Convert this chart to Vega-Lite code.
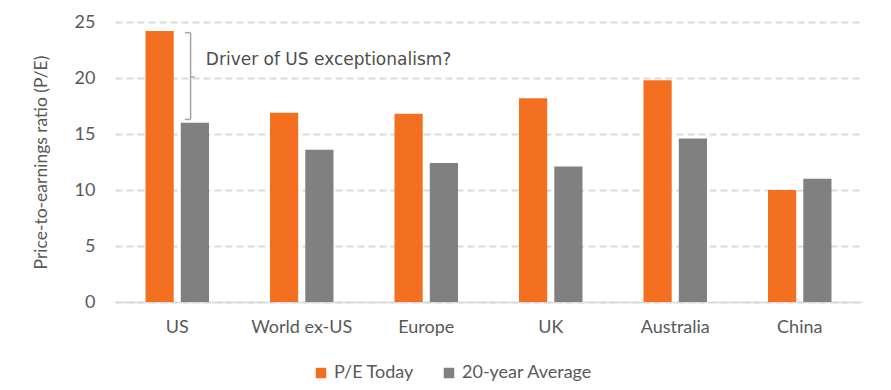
{
  "$schema": "https://vega.github.io/schema/vega-lite/v6.json",
  "width": 747,
  "height": 280,
  "autosize": {"type": "none"},
  "padding": {"left": 115, "top": 22, "right": 29, "bottom": 88},
  "background": "white",
  "config": {
    "view": {"stroke": null},
    "font": "Lato"
  },
  "datasets": {
    "pe": [
      {"region": "US", "series": "P/E Today", "value": 24.2},
      {"region": "US", "series": "20-year Average", "value": 16.0},
      {"region": "World ex-US", "series": "P/E Today", "value": 16.9},
      {"region": "World ex-US", "series": "20-year Average", "value": 13.6},
      {"region": "Europe", "series": "P/E Today", "value": 16.8},
      {"region": "Europe", "series": "20-year Average", "value": 12.4},
      {"region": "UK", "series": "P/E Today", "value": 18.2},
      {"region": "UK", "series": "20-year Average", "value": 12.1},
      {"region": "Australia", "series": "P/E Today", "value": 19.8},
      {"region": "Australia", "series": "20-year Average", "value": 14.6},
      {"region": "China", "series": "P/E Today", "value": 10.0},
      {"region": "China", "series": "20-year Average", "value": 11.0}
    ],
    "bracket": [
      {"region": "US", "top": 24.05, "bottom": 16.3, "mid": 20.1, "label": "Driver of US exceptionalism?", "labelY": 21.6}
    ]
  },
  "encoding": {
    "x": {
      "field": "region",
      "type": "nominal",
      "sort": ["US", "World ex-US", "Europe", "UK", "Australia", "China"],
      "scale": {"paddingInner": 0.49, "paddingOuter": 0.245},
      "axis": {
        "title": null,
        "labelAngle": 0,
        "labelFontSize": 18,
        "labelColor": "#595959",
        "labelPadding": 16,
        "ticks": false,
        "domainColor": "#d9d9d9",
        "domainWidth": 1.5
      }
    }
  },
  "layer": [
    {
      "data": {"name": "pe"},
      "mark": {"type": "bar"},
      "encoding": {
        "xOffset": {
          "field": "series",
          "type": "nominal",
          "sort": ["P/E Today", "20-year Average"],
          "scale": {"paddingInner": 0.2, "paddingOuter": 0}
        },
        "y": {
          "field": "value",
          "type": "quantitative",
          "scale": {"domain": [0, 25], "nice": false},
          "axis": {
            "title": "Price-to-earnings ratio (P/E)",
            "titleFontSize": 17.5,
            "titleFontWeight": "normal",
            "titleColor": "#595959",
            "titlePadding": 24,
            "values": [0, 5, 10, 15, 20, 25],
            "labelFontSize": 18,
            "labelColor": "#595959",
            "labelPadding": 20,
            "ticks": false,
            "domain": false,
            "grid": true,
            "gridColor": "#d9d9d9",
            "gridWidth": 2,
            "gridDash": [7, 4]
          }
        },
        "color": {
          "field": "series",
          "type": "nominal",
          "scale": {"domain": ["P/E Today", "20-year Average"], "range": ["#F37021", "#808080"]},
          "legend": {
            "title": null,
            "orient": "none",
            "legendX": 197,
            "legendY": 342,
            "direction": "horizontal",
            "symbolType": "square",
            "symbolSize": 110,
            "symbolStrokeWidth": 0,
            "labelFontSize": 18,
            "labelColor": "#595959",
            "columnPadding": 26
          }
        }
      }
    },
    {
      "data": {"name": "bracket"},
      "mark": {"type": "rule", "color": "#a6a6a6", "strokeWidth": 1.5},
      "encoding": {
        "x": {"field": "region", "type": "nominal", "bandPosition": 0.71},
        "y": {"field": "top", "type": "quantitative"},
        "y2": {"field": "bottom"}
      }
    },
    {
      "data": {"name": "bracket"},
      "mark": {"type": "rule", "color": "#a6a6a6", "strokeWidth": 1.5},
      "encoding": {
        "x": {"field": "region", "type": "nominal", "bandPosition": 0.62},
        "x2": {"field": "region", "bandPosition": 0.71},
        "y": {"field": "top", "type": "quantitative"}
      }
    },
    {
      "data": {"name": "bracket"},
      "mark": {"type": "rule", "color": "#a6a6a6", "strokeWidth": 1.5},
      "encoding": {
        "x": {"field": "region", "type": "nominal", "bandPosition": 0.62},
        "x2": {"field": "region", "bandPosition": 0.71},
        "y": {"field": "bottom", "type": "quantitative"}
      }
    },
    {
      "data": {"name": "bracket"},
      "mark": {"type": "rule", "color": "#a6a6a6", "strokeWidth": 1.5},
      "encoding": {
        "x": {"field": "region", "type": "nominal", "bandPosition": 0.71},
        "x2": {"field": "region", "bandPosition": 0.77},
        "y": {"field": "mid", "type": "quantitative"}
      }
    },
    {
      "data": {"name": "bracket"},
      "mark": {"type": "text", "align": "left", "baseline": "middle", "font": "DejaVu Sans", "fontSize": 17, "color": "#4d4d4d"},
      "encoding": {
        "x": {"field": "region", "type": "nominal", "bandPosition": 0.95},
        "y": {"field": "labelY", "type": "quantitative"},
        "text": {"field": "label"}
      }
    }
  ]
}
